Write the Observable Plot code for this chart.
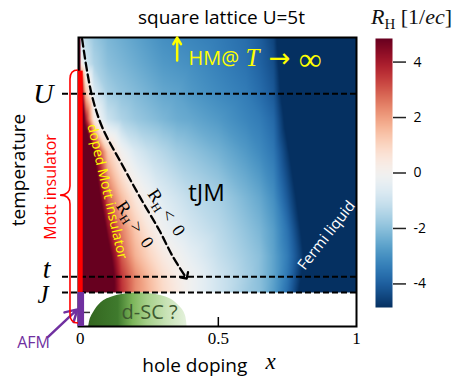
<!DOCTYPE html>
<html><head><meta charset="utf-8">
<script src="https://cdn.jsdelivr.net/npm/d3@7"></script>
<script src="https://cdn.jsdelivr.net/npm/@observablehq/plot@0.6"></script>
<style>
body{margin:0;background:#fff;}
#wrap{position:relative;width:463px;height:384px;overflow:hidden;background:#fff;}
#main,#cbar{position:absolute;top:0;}
#main{left:0;}
#cbar{left:360px;}
#cbtitle{position:absolute;left:371px;top:6px;font-family:"Liberation Serif",serif;font-size:22px;line-height:22px;white-space:nowrap;color:#111;}
svg marker path{stroke-dasharray:none;}
</style></head><body>
<div id="wrap"><div id="main"></div><div id="cbar"></div>
<div id="cbtitle"><i>R</i><span style="font-size:15px;position:relative;top:5px;">H</span>&nbsp;[1/<i>ec</i>]</div></div>
<script>
// ---------- data ----------
const dopingCols = [0, 0.02, 0.05, 0.1, 0.15, 0.2, 0.25, 0.3, 0.35, 0.4, 0.5, 0.6, 0.65, 0.7, 0.75, 0.8, 0.85, 1];
const tempRows = [8.2, 6.5, 5, 4, 3, 2, 1.5, 1.2, 1, 0.87];
const hallGrid = [
  [-0.6, -1.3, -1.8, -2.2, -2.4, -2.6, -2.8, -3.0, -3.1, -3.2, -3.4, -3.7, -4.0, -4.5, -6.0, -7, -7, -7],
  [0.8, -0.8, -1.5, -2.0, -2.2, -2.4, -2.6, -2.8, -2.9, -3.0, -3.3, -3.6, -3.9, -4.3, -5.9, -7, -7, -7],
  [6, 1.5, -0.6, -1.6, -1.9, -2.1, -2.3, -2.5, -2.6, -2.8, -3.1, -3.4, -3.7, -4.1, -5.6, -7, -7, -7],
  [8, 4, 0.4, -1.0, -1.5, -1.8, -2.0, -2.2, -2.4, -2.5, -2.8, -3.2, -3.4, -3.8, -5.2, -7, -7, -7],
  [9, 7, 4.8, 1.2, 0.0, -0.7, -1.1, -1.4, -1.7, -1.9, -2.3, -2.8, -3.1, -3.5, -4.7, -6, -7, -7],
  [10, 9, 6.5, 3, 1.5, 0.5, -0.1, -0.6, -0.9, -1.2, -1.6, -2.2, -2.5, -3.0, -4.1, -5.3, -7, -7],
  [10, 10, 8, 4.5, 2.5, 1.3, 0.5, -0.1, -0.5, -0.8, -1.3, -1.9, -2.2, -2.7, -3.6, -4.9, -6.5, -7],
  [10, 10, 9, 5.5, 3, 1.7, 1.0, 0.4, 0, -0.4, -1.1, -1.7, -2.0, -2.6, -3.4, -4.6, -6.2, -7],
  [10, 10, 10, 6, 3.5, 2.3, 1.5, 0.8, 0.3, -0.1, -0.9, -1.6, -2.0, -2.6, -3.5, -4.85, -6.3, -7],
  [10, 10, 10, 6, 3.6, 2.3, 1.6, 0.9, 0.4, -0.1, -0.9, -1.7, -2.0, -2.7, -3.7, -5.1, -6.5, -7]
];
const levelNames = ["U", "t", "J"];
const levelTemps = [5, 1, 0.87];
const xTicks = [0, 0.5, 1];
const colorTicks = [-4, -2, 0, 2, 4];
const colorRange = [-4.85, 4.85];
const xRange = [-0.006, 1];
const tRange = [0.645, 8.2];
const zeroLineX = [0.007, 0.041, 0.081, 0.150, 0.218, 0.287, 0.334, 0.381];
const zeroLineT = [8.1, 5.0, 3.7, 2.7, 2.0, 1.5, 1.2, 1.0];
const domeX = [0.031, 0.037, 0.049, 0.066, 0.086, 0.110, 0.146, 0.218, 0.291, 0.327, 0.351, 0.370, 0.381, 0.387];
const domeT = [0.645, 0.692, 0.731, 0.776, 0.810, 0.832, 0.852, 0.868, 0.847, 0.821, 0.787, 0.749, 0.710, 0.645];
const mottBarX = [-0.007, 0.011];
const mottBarT = [0.87, 6.1];
const afmBarX = [-0.008, 0.016];
const afmBarT = [0.645, 0.87];
const braceX = [-0.006, -0.035, -0.071];
const braceT = [6.13, 2.04, 0.662];
const hmArrowX = 0.351, hmArrowT = [6.7, 8.2];
const afmArrowX = [-0.115, -0.01], afmArrowT = [0.59, 0.75];
const innerTickT = [0.73];

// ---------- build tables ----------
const hallPoints = [];
tempRows.forEach((T, i) => dopingCols.forEach((x, j) => hallPoints.push({x, T, R: hallGrid[i][j]})));
const zeroLine = zeroLineX.map((x, i) => ({x, T: zeroLineT[i]}));
const dome = domeX.map((x, i) => ({x, T: domeT[i]}));
const levels = levelNames.map((name, i) => ({name, T: levelTemps[i]}));

const colorOpts = {type: "diverging", scheme: "RdBu", reverse: true, domain: colorRange, clamp: true};
const NS = "http://www.w3.org/2000/svg";
const serif = "'Liberation Serif', serif";
const YEL = "#ffff00";

function gradientDefs() {
  const defs = document.createElementNS(NS, "defs");
  const g = document.createElementNS(NS, "linearGradient");
  g.setAttribute("id", "dscgrad");
  g.setAttribute("x1", "0"); g.setAttribute("x2", "1"); g.setAttribute("y1", "0"); g.setAttribute("y2", "0");
  [[0, "#33661f"], [0.3, "#3f7a2d"], [0.45, "#7cb55a"], [0.6, "#a6d08a"], [0.8, "#c9e3b7"], [1, "#e4f1dc"]].forEach(([o, c]) => {
    const s = document.createElementNS(NS, "stop");
    s.setAttribute("offset", o); s.setAttribute("stop-color", c);
    g.appendChild(s);
  });
  defs.appendChild(g);
  return defs;
}

function braceMark(index, scales) {
  const sx = scales.x, sy = scales.y;
  const xe = sx(braceX[0]), xb = sx(braceX[1]), xt = sx(braceX[2]);
  const yt = sy(braceT[0]), ym = sy(braceT[1]), yb = sy(braceT[2]);
  const r = 9;
  const d = `M${xe},${yt}Q${xb},${yt} ${xb},${yt + r}L${xb},${ym - r}Q${xb},${ym} ${xt},${ym}Q${xb},${ym} ${xb},${ym + r}L${xb},${yb - r}Q${xb},${yb} ${xe},${yb}`;
  const p = document.createElementNS(NS, "path");
  p.setAttribute("d", d);
  p.setAttribute("fill", "none");
  p.setAttribute("stroke", "#ff0000");
  p.setAttribute("stroke-width", "1.6");
  return p;
}

const main = Plot.plot({
  width: 463, height: 384,
  marginTop: 37, marginBottom: 58, marginLeft: 78, marginRight: 107,
  style: {fontFamily: "'Open Sans', sans-serif", background: "transparent", overflow: "visible", color: "black"},
  x: {domain: xRange},
  y: {type: "log", domain: tRange, axis: null},
  color: colorOpts,
  marks: [
    Plot.raster(hallPoints, {x: "x", y: "T", fill: "R", interpolate: "barycentric",
      x1: xRange[0], x2: xRange[1], y1: levelTemps[2], y2: tRange[1]}),
    gradientDefs,
    Plot.areaY(dome, {x: "x", y1: tRange[0], y2: "T", fill: "url(#dscgrad)", curve: "catmull-rom"}),
    Plot.text(["d-SC ?"], {x: 0.251, y: 0.731, fontSize: 20, fill: "#3e5a30"}),
    Plot.ruleY(levels, {y: "T", insetLeft: -16, stroke: "black", strokeWidth: 2, strokeDasharray: "6,3"}),
    Plot.line(zeroLine, {x: "x", y: "T", stroke: "black", strokeWidth: 2.3, strokeDasharray: "8,4", curve: "catmull-rom", markerEnd: "arrow"}),
    Plot.frame({stroke: "black", strokeWidth: 2}),
    Plot.ruleX([xTicks[1]], {insetTop: 280, stroke: "black", strokeWidth: 1.5}),
    Plot.ruleY(innerTickT, {insetRight: 266, stroke: "#333", strokeWidth: 1.5}),
    Plot.rect([0], {x1: mottBarX[0], x2: mottBarX[1], y1: mottBarT[0], y2: mottBarT[1], fill: "#ff0000"}),
    Plot.rect([0], {x1: afmBarX[0], x2: afmBarX[1], y1: afmBarT[0], y2: afmBarT[1], fill: "#7030a0"}),
    Plot.axisX(xTicks, {tickSize: 0, tickPadding: 5, fontSize: 17, fontFamily: serif, tickFormat: d => String(d), label: null}),
    // y level labels
    Plot.text(["U"], {frameAnchor: "left", y: levelTemps[0], dx: -25, textAnchor: "end", fontSize: 28, fontStyle: "italic", fontFamily: serif}),
    Plot.text(["t"], {frameAnchor: "left", y: levelTemps[1], dx: -28, dy: -8, textAnchor: "end", fontSize: 28, fontStyle: "italic", fontFamily: serif}),
    Plot.text(["J"], {frameAnchor: "left", y: levelTemps[2], dx: -30, dy: 3, textAnchor: "end", fontSize: 25, fontStyle: "italic", fontFamily: serif}),
    // titles & labels
    Plot.text(["square lattice U=5t"], {frameAnchor: "top", dx: 4, dy: -27, fontSize: 19}),
    Plot.text(["temperature"], {frameAnchor: "left", textAnchor: "middle", dx: -60, dy: -12, rotate: -90, fontSize: 19}),
    Plot.text(["Mott insulator"], {frameAnchor: "left", textAnchor: "middle", dx: -28, dy: 5, rotate: -90, fontSize: 16, fill: "#ff0000"}),
    Plot.text(["AFM"], {frameAnchor: "bottom-left", textAnchor: "middle", dx: -45, dy: 21, fontSize: 16, fill: "#7030a0"}),
    Plot.text(["hole doping"], {frameAnchor: "bottom", x: 0.415, dy: 45, fontSize: 19}),
    Plot.text(["x"], {frameAnchor: "bottom", x: 0.689, dy: 42, fontSize: 23, fontStyle: "italic", fontFamily: serif}),
    // annotations
    Plot.text(["tJM"], {x: 0.457, y: 2.08, fontSize: 24}),
    Plot.text(["HM@"], {x: 0.392, y: 6.82, textAnchor: "start", fontSize: 20, fill: YEL}),
    Plot.text(["T"], {x: 0.598, y: 6.82, textAnchor: "start", fontSize: 25, fontStyle: "italic", fontFamily: serif, fill: YEL}),
    Plot.text(["→"], {x: 0.7215, y: 6.82, fontSize: 26, fontFamily: "'DejaVu Sans', sans-serif", fill: YEL}),
    Plot.text(["∞"], {x: 0.832, y: 6.82, dy: 1, fontSize: 32, fontFamily: serif, fill: YEL}),
    Plot.text(["doped Mott insulator"], {x: 0.098, y: 2.115, rotate: 77, fontSize: 14, fill: YEL}),
    Plot.text(["RH < 0"], {x: 0.3125, y: 1.759, rotate: 56, fontSize: 18, fontFamily: serif}),
    Plot.text(["RH > 0"], {x: 0.1985, y: 1.582, rotate: 56, fontSize: 18, fontFamily: serif}),
    Plot.text(["Fermi liquid"], {x: 0.8916, y: 1.436, rotate: -52, fontSize: 15, fill: "white"}),
    Plot.arrow([0], {x1: hmArrowX, x2: hmArrowX, y1: hmArrowT[0], y2: hmArrowT[1], stroke: YEL, strokeWidth: 2.5, headLength: 8}),
    Plot.arrow([0], {x1: afmArrowX[0], x2: afmArrowX[1], y1: afmArrowT[0], y2: afmArrowT[1], stroke: "#7030a0", strokeWidth: 2.5, headLength: 10}),
    braceMark
  ]
});

// subscript H in R_H annotations
main.querySelectorAll("text").forEach(t => {
  const s = t.textContent;
  if (s === "RH < 0" || s === "RH > 0") {
    t.textContent = "";
    const a = document.createElementNS(NS, "tspan"); a.textContent = "R";
    const b = document.createElementNS(NS, "tspan"); b.textContent = "H"; b.setAttribute("font-size", "12"); b.setAttribute("dy", "4");
    const c = document.createElementNS(NS, "tspan"); c.textContent = "\u2009" + s.slice(3).replace(" ", "\u2002"); c.setAttribute("dy", "-4");
    t.append(a, b, c);
  }
});
document.getElementById("main").appendChild(main);

const cbar = Plot.plot({
  width: 103, height: 384,
  marginLeft: 15, marginRight: 71, marginTop: 38, marginBottom: 77,
  style: {fontFamily: "'Open Sans', sans-serif", background: "transparent", color: "black"},
  x: {domain: [0, 1], axis: null},
  y: {domain: colorRange, axis: null},
  color: colorOpts,
  marks: [
    Plot.raster({fill: (x, y) => y, x1: 0, x2: 1, y1: colorRange[0], y2: colorRange[1]}),
    Plot.axisY(colorTicks, {anchor: "right", tickSize: 13, tickPadding: 8, fontSize: 14, strokeWidth: 1.5, stroke: "#222", tickFormat: d => String(d), label: null})
  ]
});
document.getElementById("cbar").appendChild(cbar);
</script>
</body></html>
